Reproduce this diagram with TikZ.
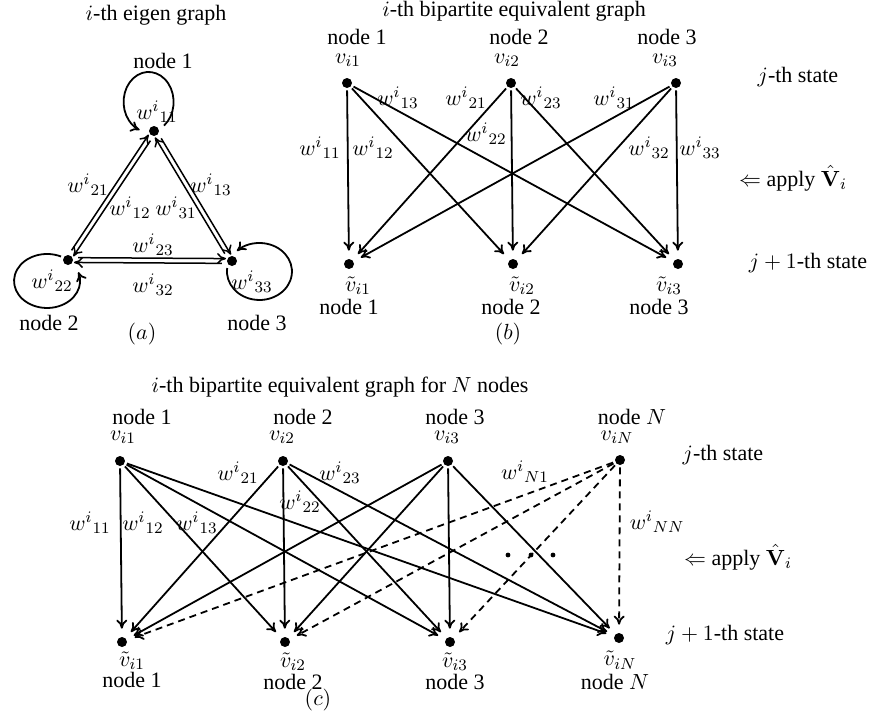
\documentclass[tikz,border=0pt]{standalone}
\usepackage[no-math]{fontspec}
\setmainfont{Liberation Serif}
\usetikzlibrary{arrows.meta,calc,positioning}
\tikzset{
  vtx/.style={circle, fill=black, inner sep=0pt, minimum size=5pt},
  fewdot/.style={circle, fill=black, inner sep=0pt, minimum size=2.4pt},
  arr/.style={-{To[length=4.5pt,width=5.5pt]}, line width=0.9pt, shorten >=4pt, shorten <=1pt},
  darr/.style={arr, dash pattern=on 3.5pt off 2.5pt},
  pairarr/.style={-{To[length=4.5pt,width=5.5pt]}, line width=0.75pt, shorten >=3pt, shorten <=5pt},
  looparr/.style={-{To[length=4.5pt,width=5.5pt]}, line width=0.9pt}
}
\begin{document}
\begin{tikzpicture}[x=0.5pt,y=-0.5pt,every node/.style={font=\fontsize{11}{13}\selectfont}]
\useasboundingbox (0,0) rectangle (872,714);

% (a) eigen graph
\node (tita) at (156,15) {$i$-th eigen graph};
\node[vtx] (a1) at (154,131) {};
\node[vtx] (a2) at (68,260) {};
\node[vtx] (a3) at (232,261) {};
\node (na1) at (163,61) {node 1};
\node (na2) at (49,323) {node 2};
\node (na3) at (257,323) {node 3};
\node (capa) at (142,334) {$(a)$};

\draw[looparr] ([shift={(5pt,2.7pt)}]a1.center) arc[start angle=-52, end angle=249, x radius=12.5pt, y radius=15pt];
\draw[looparr] ([shift={(-3.5pt,1.75pt)}]a2.center) arc[start angle=65, end angle=379, x radius=16.5pt, y radius=13.5pt];
\draw[looparr] ([shift={(-2.4pt,-3.5pt)}]a3.center) arc[start angle=173, end angle=494, x radius=16.25pt, y radius=14.25pt];

\draw[pairarr] ($(a2)!1.2pt!90:(a1)$) -- ($(a1)!1.2pt!-90:(a2)$);
\draw[pairarr] ($(a1)!1.2pt!90:(a2)$) -- ($(a2)!1.2pt!-90:(a1)$);
\draw[pairarr] ($(a1)!1.2pt!90:(a3)$) -- ($(a3)!1.2pt!-90:(a1)$);
\draw[pairarr] ($(a3)!1.2pt!90:(a1)$) -- ($(a1)!1.2pt!-90:(a3)$);
\draw[pairarr] ($(a2)!1.2pt!90:(a3)$) -- ($(a3)!1.2pt!-90:(a2)$);
\draw[pairarr] ($(a3)!1.2pt!90:(a2)$) -- ($(a2)!1.2pt!-90:(a3)$);

\node (wa11) at (157,112) {${w^i}_{11}$};
\node (wa21) at (88,185) {${w^i}_{21}$};
\node (wa12) at (130,208) {${w^i}_{12}$};
\node (wa31) at (176,208) {${w^i}_{31}$};
\node (wa13) at (211,185) {${w^i}_{13}$};
\node (wa23) at (153,245) {${w^i}_{23}$};
\node (wa32) at (153,285) {${w^i}_{32}$};
\node (wa22) at (52,281) {${w^i}_{22}$};
\node (wa33) at (252,282) {${w^i}_{33}$};

% (b) bipartite graph
\node (titb) at (514,11) {$i$-th bipartite equivalent graph};
\node[vtx] (b1) at (347,83) {};
\node[vtx] (b2) at (511,83) {};
\node[vtx] (b3) at (676,83) {};
\node[vtx] (c1) at (349,264) {};
\node[vtx] (c2) at (513,264) {};
\node[vtx] (c3) at (678,264) {};
\node (nb1) at (357,37) {node 1};
\node (nb2) at (519,37) {node 2};
\node (nb3) at (667,37) {node 3};
\node (vb1) at (348,60) {$v_{i1}$};
\node (vb2) at (507,60) {$v_{i2}$};
\node (vb3) at (665,60) {$v_{i3}$};
\node (uc1) at (358,286) {$\tilde{v}_{i1}$};
\node (uc2) at (522,286) {$\tilde{v}_{i2}$};
\node (uc3) at (669,286) {$\tilde{v}_{i3}$};
\node (nc1) at (349,307) {node 1};
\node (nc2) at (511,307) {node 2};
\node (nc3) at (659,307) {node 3};
\node (capb) at (508,334) {$(b)$};

\draw[arr] (b1) -- (c1);
\draw[arr] (b1) -- (c2);
\draw[arr] (b1) -- (c3);
\draw[arr] (b2) -- (c1);
\draw[arr] (b2) -- (c2);
\draw[arr] (b2) -- (c3);
\draw[arr] (b3) -- (c1);
\draw[arr] (b3) -- (c2);
\draw[arr] (b3) -- (c3);

\node (wb11) at (320,148) {${w^i}_{11}$};
\node (wb12) at (373,148) {${w^i}_{12}$};
\node (wb13) at (398,98) {${w^i}_{13}$};
\node (wb21) at (466,98) {${w^i}_{21}$};
\node (wb22) at (486,134) {${w^i}_{22}$};
\node (wb23) at (541,98) {${w^i}_{23}$};
\node (wb31) at (614,98) {${w^i}_{31}$};
\node (wb32) at (649,148) {${w^i}_{32}$};
\node (wb33) at (700,148) {${w^i}_{33}$};

\node (stb1) at (798,77) {$j$-th state};
\node (apb) at (793,178) {$\Leftarrow$ apply $\hat{\mathbf{V}}_i$};
\node (stb2) at (808,263) {$j+1$-th state};

% (c) bipartite graph, N nodes
\node (titc) at (340,387) {$i$-th bipartite equivalent graph for $N$ nodes};
\node[vtx] (d1) at (120,461) {};
\node[vtx] (d2) at (283,461) {};
\node[vtx] (d3) at (448,461) {};
\node[vtx] (dN) at (620,460) {};
\node[vtx] (e1) at (122,642) {};
\node[vtx] (e2) at (285,642) {};
\node[vtx] (e3) at (450,642) {};
\node[vtx] (eN) at (619,638) {};
\node (nd1) at (142,417) {node 1};
\node (nd2) at (303,417) {node 2};
\node (nd3) at (455,417) {node 3};
\node (ndN) at (632,417) {node $N$};
\node (vd1) at (123,437) {$v_{i1}$};
\node (vd2) at (282,437) {$v_{i2}$};
\node (vd3) at (447,437) {$v_{i3}$};
\node (vdN) at (617,437) {$v_{iN}$};
\node (ue1) at (132,661) {$\tilde{v}_{i1}$};
\node (ue2) at (293,662) {$\tilde{v}_{i2}$};
\node (ue3) at (455,662) {$\tilde{v}_{i3}$};
\node (ueN) at (620,660) {$\tilde{v}_{iN}$};
\node (ne1) at (132,680) {node 1};
\node (ne2) at (293,682) {node 2};
\node (ne3) at (455,682) {node 3};
\node (neN) at (615,682) {node $N$};
\node (capc) at (318,700) {$(c)$};

\draw[arr] (d1) -- (e1);
\draw[arr] (d1) -- (e2);
\draw[arr] (d1) -- (e3);
\draw[arr] (d1) -- (eN);
\draw[arr] (d2) -- (e1);
\draw[arr] (d2) -- (e2);
\draw[arr] (d2) -- (e3);
\draw[arr] (d2) -- (eN);
\draw[arr] (d3) -- (e1);
\draw[arr] (d3) -- (e2);
\draw[arr] (d3) -- (e3);
\draw[arr] (d3) -- (eN);
\draw[darr] (dN) -- (e1);
\draw[darr] (dN) -- (e2);
\draw[darr] (dN) -- (e3);
\draw[darr] (dN) -- (eN);

\node (wd11) at (90,523) {${w^i}_{11}$};
\node (wd12) at (143,523) {${w^i}_{12}$};
\node (wd13) at (197,523) {${w^i}_{13}$};
\node (wd21) at (238,473) {${w^i}_{21}$};
\node (wd22) at (300,502) {${w^i}_{22}$};
\node (wd23) at (340,473) {${w^i}_{23}$};
\node (wdN1) at (525,472) {${w^i}_{N1}$};
\node (wdNN) at (657,522) {${w^i}_{NN}$};
\node[fewdot] (el1) at (508,555) {};
\node[fewdot] (el2) at (531,555) {};
\node[fewdot] (el3) at (553,555) {};

\node (stc1) at (723,455) {$j$-th state};
\node (apc) at (738,557) {$\Leftarrow$ apply $\hat{\mathbf{V}}_i$};
\node (stc2) at (725,635) {$j+1$-th state};
\end{tikzpicture}
\end{document}
